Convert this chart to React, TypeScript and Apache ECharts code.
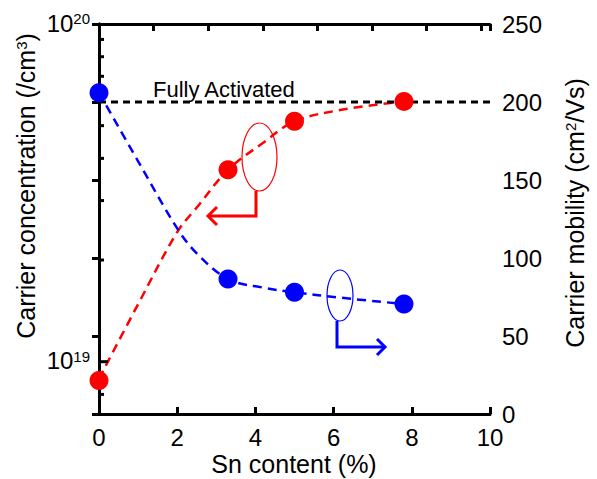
import React, { useEffect, useRef } from "react";
import * as echarts from "echarts";

// ---- data ----
const snContent = [0, 3.3, 5, 7.8];
const carrierConc = [8.8e18, 3.7e19, 5.15e19, 5.9e19];
const mobility = [206, 86.5, 78, 70.5];

const concFitX = [0, 1, 2, 2.5, 3.3, 4.2, 5, 6.2, 7.8];
const concFitY = [8.9e18, 1.48e19, 2.42e19, 2.86e19, 3.7e19, 4.45e19, 5.15e19, 5.57e19, 5.9e19];
const mobFitX = [0, 1, 2, 2.5, 3.3, 4.2, 5, 6.2, 7.8];
const mobFitY = [206, 162, 119, 103, 86.5, 81, 78, 74.5, 70.5];

const fullyActivated = 200;

const xMin = 0;
const xMax = 10;
const xInterval = 2;
const topTickMax = 7.16;
const concMin = 7e18;
const concMax = 1e20;
const leftMinorTicks = [8e18, 9e18, 2e19, 3e19, 4e19, 5e19, 6e19, 7e19, 8e19, 9e19];
const leftMajorTicks = [1e19];
const leftLabels = [1e19, 1e20];
const mobMin = 0;
const mobMax = 250;
const mobInterval = 50;

const FONT = "'Liberation Sans', Arial, Helvetica, sans-serif";

export default function App() {
  const ref = useRef<HTMLDivElement>(null);
  useEffect(() => {
    document.body.style.margin = "0";
    const chart = echarts.init(ref.current!, null, { renderer: "svg" });
    const lg = (v: number) => Math.log10(v);
    const tickRender = (len: number) => (params: any, api: any) => {
      const p = api.coord([api.value(0), api.value(1)]);
      return {
        type: "line",
        shape: { x1: p[0], y1: p[1], x2: p[0] + len, y2: p[1] },
        style: { stroke: "#000", lineWidth: 3 },
      };
    };
    const option: any = {
      animation: false,
      backgroundColor: "#fff",
      grid: { left: 99, right: 107, top: 24, bottom: 65, outerBoundsMode: "none" },
      xAxis: [
        {
          type: "value",
          position: "bottom",
          min: xMin,
          max: xMax,
          interval: xInterval,
          splitLine: { show: false },
          axisLine: { show: true, lineStyle: { color: "#000", width: 3 } },
          axisTick: { show: true, inside: true, length: 7, lineStyle: { color: "#000", width: 3 } },
          axisLabel: { show: true, color: "#000", fontSize: 24, fontFamily: FONT, margin: 11 },
        },
        {
          type: "value",
          position: "top",
          min: 0,
          max: topTickMax,
          interval: 1,
          splitLine: { show: false },
          axisLine: { show: true, lineStyle: { color: "#000", width: 3 } },
          axisTick: { show: true, inside: true, length: 7, lineStyle: { color: "#000", width: 3 } },
          axisLabel: { show: false },
        },
      ],
      yAxis: [
        {
          type: "value",
          position: "left",
          min: lg(concMin),
          max: lg(concMax),
          splitLine: { show: false },
          axisLine: { show: true, lineStyle: { color: "#000", width: 3 } },
          axisTick: { show: false },
          axisLabel: { show: false },
        },
        {
          type: "value",
          position: "right",
          min: mobMin,
          max: mobMax,
          interval: mobInterval,
          splitLine: { show: false },
          axisLine: { show: true, lineStyle: { color: "#000", width: 3 } },
          axisTick: { show: true, inside: true, length: 7, lineStyle: { color: "#000", width: 3 } },
          axisLabel: { show: true, color: "#000", fontSize: 24, fontFamily: FONT, margin: 12 },
        },
      ],
      graphic: [
        {
          type: "text",
          x: 294,
          y: 464,
          style: {
            text: "Sn content (%)",
            fontSize: 25,
            fontFamily: FONT,
            fill: "#000",
            align: "center",
            verticalAlign: "middle",
          },
        },
        {
          type: "text",
          x: 26,
          y: 186,
          rotation: Math.PI / 2,
          style: {
            text: "{b|Carrier concentration (/cm}{s|3}{b|)}",
            align: "center",
            verticalAlign: "middle",
            fill: "#000",
            rich: {
              b: { fontSize: 25, fontFamily: FONT, fill: "#000" },
              s: { fontSize: 15, fontFamily: FONT, fill: "#000", verticalAlign: "top" },
            },
          },
        },
        {
          type: "text",
          x: 575,
          y: 213,
          rotation: Math.PI / 2,
          style: {
            text: "{b|Carrier mobility (cm}{s|2}{b|/Vs)}",
            align: "center",
            verticalAlign: "middle",
            fill: "#000",
            rich: {
              b: { fontSize: 25, fontFamily: FONT, fill: "#000" },
              s: { fontSize: 15, fontFamily: FONT, fill: "#000", verticalAlign: "top" },
            },
          },
        },
        {
          type: "text",
          x: 153,
          y: 89,
          style: {
            text: "Fully Activated",
            fontSize: 22,
            fontFamily: FONT,
            fill: "#000",
            align: "left",
            verticalAlign: "middle",
          },
        },
        // red annotation
        {
          type: "ellipse",
          shape: { cx: 259.5, cy: 157, rx: 17.5, ry: 34 },
          style: { fill: "none", stroke: "#ff0000", lineWidth: 1.2 },
        },
        {
          type: "polyline",
          shape: { points: [[256, 191], [256, 216], [209, 216]] },
          style: { fill: "none", stroke: "#ff0000", lineWidth: 3 },
        },
        {
          type: "polyline",
          shape: { points: [[217, 207], [208, 216], [217, 225]] },
          style: { fill: "none", stroke: "#ff0000", lineWidth: 3 },
        },
        // blue annotation
        {
          type: "ellipse",
          shape: { cx: 340, cy: 295.5, rx: 13, ry: 25.5 },
          style: { fill: "none", stroke: "#0000ff", lineWidth: 1.2 },
        },
        {
          type: "polyline",
          shape: { points: [[337, 321], [337, 347], [384, 347]] },
          style: { fill: "none", stroke: "#0000ff", lineWidth: 3 },
        },
        {
          type: "polyline",
          shape: { points: [[377, 339], [385, 347], [377, 355]] },
          style: { fill: "none", stroke: "#0000ff", lineWidth: 3 },
        },
      ],
      series: [
        {
          type: "custom",
          name: "leftMinorTicks",
          xAxisIndex: 0,
          yAxisIndex: 0,
          clip: false,
          silent: true,
          z: 4,
          data: leftMinorTicks.map((v) => [0, lg(v)]),
          renderItem: tickRender(5),
        },
        {
          type: "custom",
          name: "leftMajorTicks",
          xAxisIndex: 0,
          yAxisIndex: 0,
          clip: false,
          silent: true,
          z: 4,
          data: leftMajorTicks.map((v) => [0, lg(v)]),
          renderItem: tickRender(9),
        },
        {
          type: "custom",
          name: "leftLabels",
          xAxisIndex: 0,
          yAxisIndex: 0,
          clip: false,
          silent: true,
          data: leftLabels.map((v) => [0, lg(v)]),
          renderItem: (params: any, api: any) => {
            const p = api.coord([api.value(0), api.value(1)]);
            const exp = Math.round(api.value(1));
            return {
              type: "text",
              x: p[0] - 9,
              y: p[1] - 1,
              style: {
                text: `{b|10}{s|${exp}}`,
                align: "right",
                verticalAlign: "middle",
                fill: "#000",
                rich: {
                  b: { fontSize: 24, fontFamily: FONT, fill: "#000" },
                  s: { fontSize: 15, fontFamily: FONT, fill: "#000", verticalAlign: "top" },
                },
              },
            };
          },
        },
        {
          type: "line",
          name: "concFit",
          xAxisIndex: 0,
          yAxisIndex: 0,
          clip: false,
          smooth: 0.35,
          showSymbol: false,
          silent: true,
          data: concFitX.map((x, i) => [x, lg(concFitY[i])]),
          lineStyle: { color: "#ff0000", width: 2.5, type: [9, 6] },
        },
        {
          type: "line",
          name: "mobFit",
          xAxisIndex: 0,
          yAxisIndex: 1,
          clip: false,
          smooth: 0.35,
          showSymbol: false,
          silent: true,
          data: mobFitX.map((x, i) => [x, mobFitY[i]]),
          lineStyle: { color: "#0000ff", width: 2.5, type: [9, 6] },
        },
        {
          type: "line",
          name: "Fully Activated",
          xAxisIndex: 0,
          yAxisIndex: 1,
          showSymbol: false,
          silent: true,
          data: [
            [xMin, fullyActivated],
            [xMax, fullyActivated],
          ],
          lineStyle: { color: "#000", width: 3, type: [7, 5] },
        },
        {
          type: "scatter",
          name: "Carrier concentration",
          xAxisIndex: 0,
          yAxisIndex: 0,
          clip: false,
          symbolSize: 19,
          data: snContent.map((x, i) => [x, lg(carrierConc[i])]),
          itemStyle: { color: "#ff0000", opacity: 1 },
          z: 5,
        },
        {
          type: "scatter",
          name: "Carrier mobility",
          xAxisIndex: 0,
          yAxisIndex: 1,
          clip: false,
          symbolSize: 19,
          data: snContent.map((x, i) => [x, mobility[i]]),
          itemStyle: { color: "#0000ff", opacity: 1 },
          z: 5,
        },
      ],
    };
    chart.setOption(option);
    return () => chart.dispose();
  }, []);
  return (
    <div
      ref={ref}
      style={{ position: "fixed", left: 0, top: 0, width: 597, height: 479, background: "#fff" }}
    />
  );
}
